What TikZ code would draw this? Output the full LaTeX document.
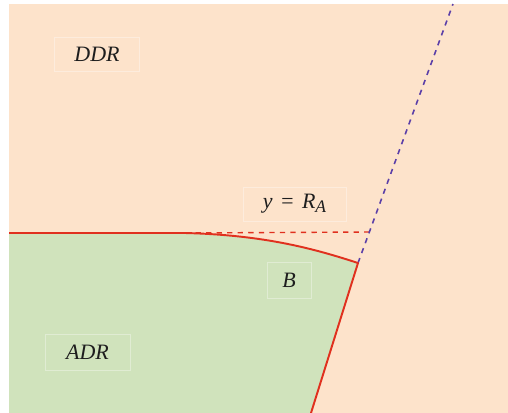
\documentclass[tikz,border=0pt]{standalone}
\usepackage{fontspec}
\setmainfont{Liberation Serif}
\usepackage{xcolor}
\usepackage{tikz}
\usetikzlibrary{positioning}
\definecolor{FigPeach}{HTML}{FDE3CB}
\definecolor{FigGreen}{HTML}{D0E3BC}
\definecolor{FigRed}{HTML}{E0301E}
\definecolor{FigViolet}{HTML}{5B3FA8}
\definecolor{FigInk}{HTML}{1E1E1E}
\newcommand{\lowsub}[1]{\raisebox{-0.4ex}{\fontsize{10}{11}\selectfont #1}}

\begin{document}
\begin{tikzpicture}[
  x=0.02cm, y=-0.02cm,
  lbox/.style={draw=white, draw opacity=0.35, line width=0.5pt, inner sep=0pt, align=center, font=\fontsize{12.5}{14}\selectfont\itshape, text=FigInk},
  border/.style={FigRed, line width=1.1pt, line join=round},
  guide/.style={FigRed, dashed, line width=0.8pt},
  slope/.style={FigViolet, dashed, line width=0.9pt}
]
\useasboundingbox (0,0) rectangle (508,413);
\fill[FigPeach] (9,4) rectangle (508,413);

% region boundary
\coordinate (left) at (9,233);
\coordinate (bend) at (185,233);
\coordinate (corner) at (358,263);
\coordinate (foot) at (311,413);
\coordinate (cross) at (369.5,232);
\coordinate (top) at (453,4);

\fill[FigGreen] (left) -- (bend) .. controls (265,235) and (315,249) .. (corner) -- (foot) -- (9,413) -- cycle;

\draw[guide] (bend) -- (cross);
\draw[slope] (corner) -- (top);
\draw[border] (left) -- (bend) .. controls (265,235) and (315,249) .. (corner) -- (foot);

\node[lbox, text width=1.7cm, minimum height=0.68cm] (ddr) at (97,54) {DDR};
\node[lbox, text width=2.06cm, minimum height=0.68cm] (ra) at (294.5,204) {y = R\lowsub{A}};
\node[lbox, text width=0.88cm, minimum height=0.72cm] (b) at (289,280) {B};
\node[lbox, text width=1.7cm, minimum height=0.72cm] (adr) at (87.5,352) {ADR};
\end{tikzpicture}
\end{document}
